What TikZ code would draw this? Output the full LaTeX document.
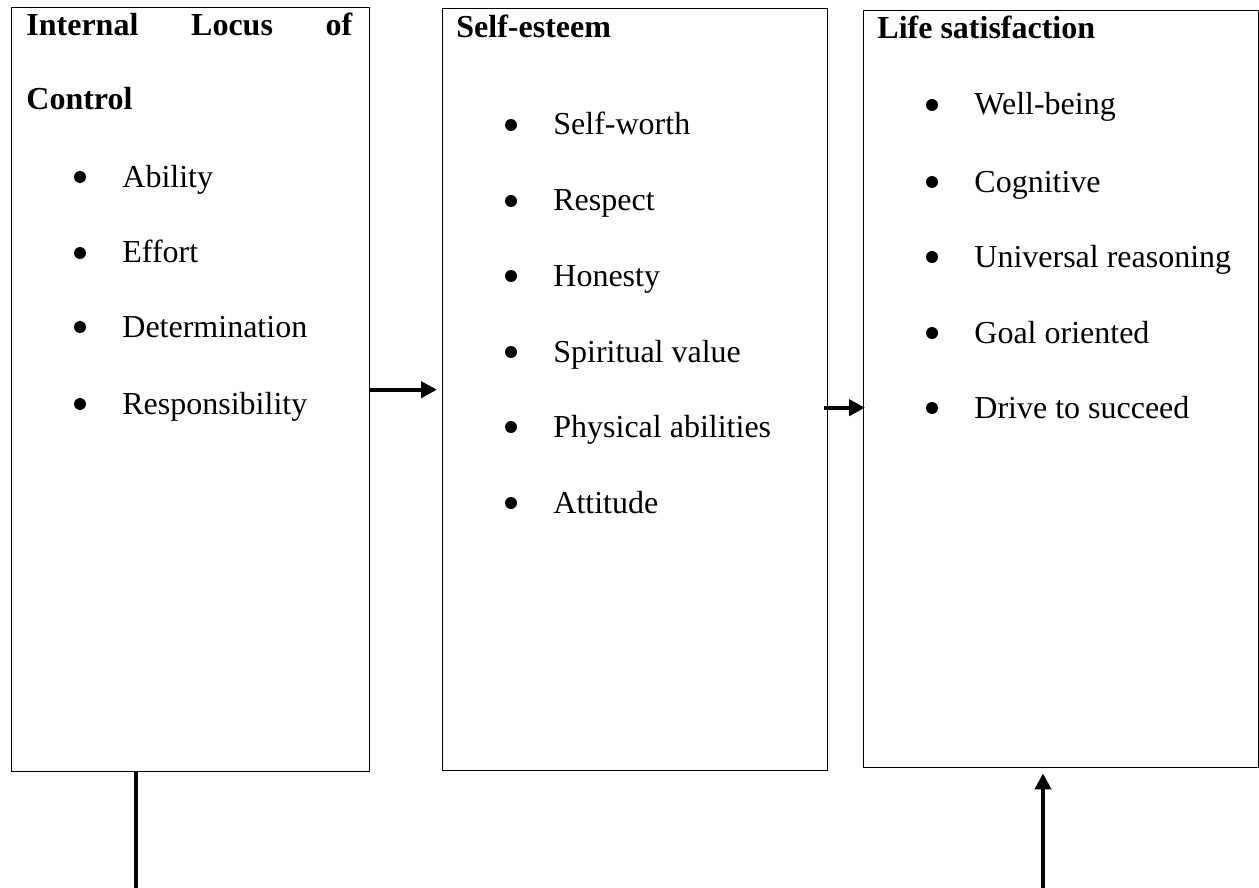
\documentclass[tikz,border=0pt]{standalone}
\usepackage{fontspec}
\setmainfont{Liberation Serif}
\usetikzlibrary{arrows.meta,calc}
\begin{document}
\begin{tikzpicture}[x=0.5pt,y=-0.5pt,
  box/.style={draw, line width=0.7pt, inner sep=0pt, anchor=north west},
  txt/.style={inner sep=0pt, anchor=base west, font=\fontsize{16}{19}\selectfont},
  head/.style={inner sep=0pt, anchor=base west, font=\fontsize{16}{19}\selectfont\bfseries},
  conn/.style={line width=2pt},
  arr/.style={conn, -{Triangle[length=8pt,width=8pt]}},
  bul/.style={circle, fill, inner sep=0pt, minimum size=6pt}]
\path[use as bounding box] (0,0) rectangle (1259,888);
% boxes
\node[box, minimum width=179pt, minimum height=382pt] (b1) at (11,7) {};
\node[box, minimum width=192.5pt, minimum height=381pt] (b2) at (442,8) {};
\node[box, minimum width=197.5pt, minimum height=378.5pt] (b3) at (863,10) {};
% headings
\node[head] (h1a) at (26,36) {\hbox to 163pt{Internal\hfill Locus\hfill of}};
\node[head] (h1b) at (26,110) {Control};
\node[head] (h2) at (456,38) {Self-esteem};
\node[head] (h3) at (877,39) {Life satisfaction};
% box 1 items
\foreach \t/\y [count=\i] in {Ability/187, Effort/263, Determination/337, Responsibility/414}{
  \node[bul] (p1\i) at (80,\y-10) {};
  \node[txt] (t1\i) at (122,\y) {\t};
}
% box 2 items
\foreach \t/\y [count=\i] in {Self-worth/135, Respect/211, Honesty/286, Spiritual value/362, Physical abilities/437, Attitude/513}{
  \node[bul] (p2\i) at (511,\y-10) {};
  \node[txt] (t2\i) at (553,\y) {\t};
}
% box 3 items
\foreach \t/\y [count=\i] in {Well-being/115, Cognitive/192, Universal reasoning/267, Goal oriented/343, Drive to succeed/418}{
  \node[bul] (p3\i) at (932,\y-10) {};
  \node[txt] (t3\i) at (974,\y) {\t};
}
% connectors
\draw[arr] (b1.east) -- ($(b2.west)+(-5,0)$);
\draw[arr] ($(b2.east)+(-4,18)$) -- ($(b3.west |- b2.east)+(2,18)$);
\coordinate (s1) at (136,888);
\draw[conn] (s1 |- b1.south) -- (s1);
\coordinate (s2) at (1043,888);
\draw[arr] (s2) -- ($(s2 |- b3.south)+(0,5)$);
\end{tikzpicture}
\end{document}
